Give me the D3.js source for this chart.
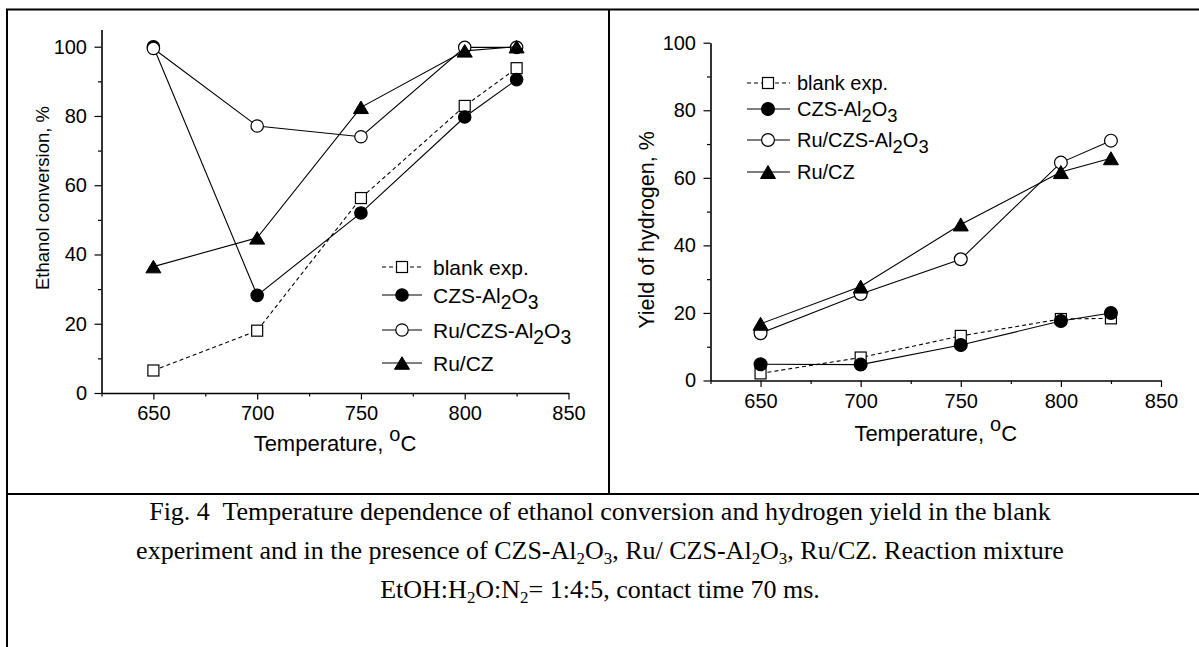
<!DOCTYPE html>
<html><head><meta charset="utf-8">
<script src="https://cdn.jsdelivr.net/npm/d3@7"></script>
<style>
html,body{margin:0;padding:0;background:#fff;}
svg{display:block;}
</style></head>
<body>
<script>
// ---- data ----
const temps = [650, 700, 750, 800, 825];
const seriesNames = ["blank exp.", "CZS-Al2O3", "Ru/CZS-Al2O3", "Ru/CZ"];
const seriesSymbols = ["square", "filledCircle", "openCircle", "triangle"];
const convBlank = [6.5, 18, 56.3, 82.9, 93.8];
const convCZS = [100, 28.2, 52, 79.7, 90.5];
const convRuCZS = [99.5, 77.1, 74, 99.8, 99.8];
const convRuCZ = [36.5, 44.8, 82.5, 98.8, 100];
const yieldBlank = [2.1, 6.8, 13.2, 18.2, 18.4];
const yieldCZS = [4.8, 4.7, 10.5, 17.6, 20];
const yieldRuCZS = [14, 25.6, 35.9, 64.5, 71];
const yieldRuCZ = [16.8, 27.8, 46.2, 61.7, 65.8];
const xMajorTicks = [650, 700, 750, 800, 850];
const xMinorTicks = [625, 675, 725, 775, 825];
const yMajorTicks = [0, 20, 40, 60, 80, 100];
const yMinorTicks = [10, 30, 50, 70, 90];
const captionLines = [
  [["Fig. 4\u00A0 Temperature dependence of ethanol conversion and hydrogen yield in the blank", 0]],
  [["experiment and in the presence of CZS-Al", 0], ["2", 1], ["O", 0], ["3", 1], [", Ru/ CZS-Al", 0], ["2", 1], ["O", 0], ["3", 1], [", Ru/CZ. Reaction mixture", 0]],
  [["EtOH:H", 0], ["2", 1], ["O:N", 0], ["2", 1], ["= 1:4:5, contact time 70 ms.", 0]]
];

const W = 1199, H = 647;
const svg = d3.select("body").append("svg").attr("width", W).attr("height", H);
svg.append("rect").attr("width", W).attr("height", H).attr("fill", "#fff");

const SANS = "'Liberation Sans', Arial, sans-serif";
const SERIF = "'Liberation Serif', 'Times New Roman', serif";

// frame
svg.append("path").attr("d", `M7,${H} V9.5 H${W}`).attr("fill", "none").attr("stroke", "#000").attr("stroke-width", 2);
svg.append("line").attr("x1", 609).attr("x2", 609).attr("y1", 9.5).attr("y2", 494).attr("stroke", "#000").attr("stroke-width", 2);
svg.append("line").attr("x1", 7).attr("x2", W).attr("y1", 494).attr("y2", 494).attr("stroke", "#000").attr("stroke-width", 2);

// rich text: parts = [[string, isSub], ...]
function richText(sel, parts, fs, subScale, subShift) {
  let shifted = false;
  parts.forEach(([s, sub]) => {
    const ts = sel.append("tspan").text(s);
    if (sub) {
      ts.attr("font-size", fs * subScale).attr("dy", shifted ? 0 : subShift);
      shifted = true;
    } else {
      ts.attr("font-size", fs);
      if (shifted) { ts.attr("dy", -subShift); shifted = false; }
    }
  });
}
function nameParts(name) {
  return name.split(/(\d)/).filter(p => p !== "").map(p => [p, /^\d$/.test(p) ? 1 : 0]);
}

function drawMarker(g, type, x, y, sz) {
  if (type === "square") {
    const s = sz.sq;
    g.append("rect").attr("x", x - s / 2).attr("y", y - s / 2).attr("width", s).attr("height", s)
      .attr("fill", "#fff").attr("stroke", "#000").attr("stroke-width", 1.2);
  } else if (type === "filledCircle") {
    g.append("circle").attr("cx", x).attr("cy", y).attr("r", sz.r).attr("fill", "#000").attr("stroke", "#000").attr("stroke-width", 1.2);
  } else if (type === "openCircle") {
    g.append("circle").attr("cx", x).attr("cy", y).attr("r", sz.r).attr("fill", "#fff").attr("stroke", "#000").attr("stroke-width", 1.2);
  } else {
    const w = sz.tw, h = sz.th;
    g.append("path").attr("d", `M${x},${y - h / 2} L${x + w / 2},${y + h / 2} L${x - w / 2},${y + h / 2} Z`)
      .attr("fill", "#000").attr("stroke", "#000").attr("stroke-width", 1);
  }
}

function panel(opt) {
  const x = d3.scaleLinear().domain([625, 850]).range(opt.xr);
  const y = d3.scaleLinear().domain(opt.yd).range(opt.yr);
  const g = svg.append("g");
  const y0 = y(0), x0 = opt.xr[0];

  // minor ticks
  g.append("g").attr("transform", `translate(0,${y0})`)
    .call(d3.axisBottom(x).tickValues(xMinorTicks).tickSize(3.5).tickFormat(""))
    .call(a => a.select(".domain").remove())
    .call(a => a.selectAll("text").remove())
    .call(a => a.selectAll("line").attr("stroke-width", 1.2));
  g.append("g").attr("transform", `translate(${x0},0)`)
    .call(d3.axisLeft(y).tickValues(yMinorTicks).tickSize(3.5).tickFormat(""))
    .call(a => a.select(".domain").remove())
    .call(a => a.selectAll("text").remove())
    .call(a => a.selectAll("line").attr("stroke-width", 1.2));
  // major
  const ax = g.append("g").attr("transform", `translate(0,${y0})`)
    .call(d3.axisBottom(x).tickValues(xMajorTicks).tickSize(6.5).tickSizeOuter(0).tickPadding(6.5));
  const ay = g.append("g").attr("transform", `translate(${x0},0)`)
    .call(d3.axisLeft(y).tickValues(yMajorTicks).tickSize(7).tickSizeOuter(0).tickPadding(7.5));
  [ax, ay].forEach(a => {
    a.select(".domain").attr("stroke-width", 1.6);
    a.selectAll("line").attr("stroke-width", 1.2);
    a.selectAll("text").attr("font-family", SANS).attr("font-size", 20).attr("fill", "#000");
  });

  // series
  const lineGen = d3.line().x((d, i) => x(temps[i])).y(d => y(d));
  opt.series.forEach((vals, k) => {
    const sg = g.append("g");
    sg.append("path").attr("d", lineGen(vals)).attr("fill", "none").attr("stroke", "#000")
      .attr("stroke-width", 1.1).attr("stroke-dasharray", k === 0 ? "4,3" : null);
    vals.forEach((v, i) => drawMarker(sg, seriesSymbols[k], x(temps[i]), y(v), opt.msz));
  });

  // legend
  seriesNames.forEach((name, k) => {
    const ly = opt.legY[k];
    const lg = g.append("g");
    lg.append("line").attr("x1", opt.legX[0]).attr("x2", opt.legX[2]).attr("y1", ly).attr("y2", ly)
      .attr("stroke", "#000").attr("stroke-width", 1.1).attr("stroke-dasharray", k === 0 ? "4,3" : null);
    drawMarker(lg, seriesSymbols[k], opt.legX[1], ly, opt.msz);
    const t = lg.append("text").attr("x", opt.legX[3]).attr("y", ly + opt.legFont * 0.36)
      .attr("font-family", SANS).attr("font-size", opt.legFont).attr("fill", "#000");
    richText(t, nameParts(name), opt.legFont, 0.92, opt.legFont * 0.3);
  });

  // axis titles
  const xt = g.append("text").attr("x", (opt.xr[0] + opt.xr[1]) / 2).attr("y", opt.xtY)
    .attr("text-anchor", "middle").attr("font-family", SANS).attr("font-size", 22).attr("fill", "#000");
  xt.append("tspan").text("Temperature, ");
  xt.append("tspan").attr("dy", -10).attr("font-size", 20).text("o");
  xt.append("tspan").attr("dy", 10).text("C");

  g.append("text").attr("transform", `translate(${opt.ytX},${opt.ytY}) rotate(-90)`)
    .attr("text-anchor", "middle").attr("dy", "0.36em").attr("font-family", SANS).attr("font-size", opt.ytFont)
    .attr("fill", "#000").text(opt.ytText);
}

panel({
  xr: [101.5, 568.5], yd: [0, 105], yr: [393, 29.4],
  series: [convBlank, convCZS, convRuCZS, convRuCZ],
  legY: [267, 295, 330, 363], legX: [382, 402, 422, 433], legFont: 21,
  msz: { sq: 11, r: 6.2, tw: 15, th: 12.5 },
  xtY: 451, ytX: 42, ytY: 198, ytFont: 18.5, ytText: "Ethanol conversion, %"
});
panel({
  xr: [710.5, 1161], yd: [0, 100], yr: [380.5, 42.7],
  series: [yieldBlank, yieldCZS, yieldRuCZS, yieldRuCZ],
  legY: [83, 109, 140, 172], legX: [747, 768, 790, 797], legFont: 20,
  msz: { sq: 11, r: 6.4, tw: 15, th: 13 },
  xtY: 441, ytX: 646, ytY: 230, ytFont: 21.5, ytText: "Yield of hydrogen, %"
});

// caption
const capY = [520, 559, 598];
const capFs = 26;
captionLines.forEach((parts, i) => {
  const t = svg.append("text").attr("x", 600).attr("y", capY[i]).attr("text-anchor", "middle")
    .attr("font-family", SERIF).attr("font-size", capFs).attr("fill", "#000");
  richText(t, parts, capFs, 0.65, 5);
});
</script>
</body></html>
